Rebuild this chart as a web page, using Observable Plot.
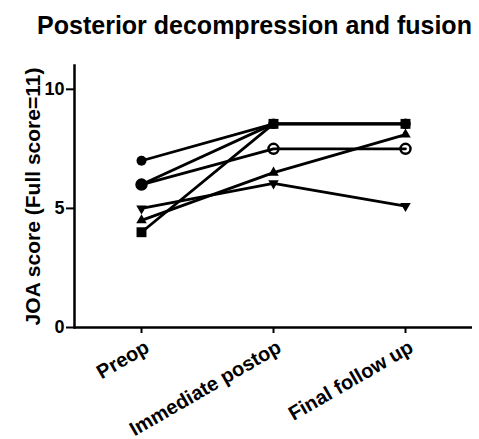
<!DOCTYPE html>
<html>
<head>
<meta charset="utf-8">
<script src="https://cdn.jsdelivr.net/npm/d3@7"></script>
<script src="https://cdn.jsdelivr.net/npm/@observablehq/plot@0.6"></script>
<style>
  html, body { margin: 0; padding: 0; background: #fff; }
  svg { font-family: "Liberation Sans", Arial, sans-serif; }
</style>
</head>
<body>
<div id="chart"></div>
<script>
const title = "Posterior decompression and fusion";
const yLabel = "JOA score (Full score=11)";
const times = ["Preop", "Immediate postop", "Final follow up"];
const yTicks = [0, 5, 10];

// one array per patient line (JOA score at each time point)
const seriesA = [7.0, 8.55, 8.55];   // small filled circle
const seriesB = [6.0, 8.55, 8.55];   // filled circle
const seriesC = [6.0, 7.5, 7.5];     // open circle
const seriesD = [4.0, 8.55, 8.55];   // filled square
const seriesE = [4.5, 6.5, 8.1];     // triangle up
const seriesF = [5.0, 6.05, 5.1];    // triangle down

const seriesList = [
  {id: "A", values: seriesA, symbol: "circle", r: 5, fill: "black", stroke: "none", rotate: 0},
  {id: "B", values: seriesB, symbol: "circle", r: 5, fill: "black", stroke: "none", rotate: 0},
  {id: "C", values: seriesC, symbol: "circle", r: 5, fill: "none", stroke: "black", rotate: 0},
  {id: "F", values: seriesF, symbol: "triangle", r: 3.9, fill: "black", stroke: "none", rotate: 180},
  {id: "E", values: seriesE, symbol: "triangle", r: 3.9, fill: "black", stroke: "none", rotate: 0},
  {id: "D", values: seriesD, symbol: "square", r: 5.6, fill: "black", stroke: "none", rotate: 0}
];

const rows = seriesList.flatMap(s => s.values.map((v, i) => ({series: s.id, time: times[i], value: v})));

const dotMarks = seriesList.map(s => Plot.dot(rows.filter(d => d.series === s.id), {
  x: "time", y: "value", symbol: () => s.symbol, r: s.r,
  fill: s.fill, stroke: s.stroke, strokeWidth: 2.5, rotate: s.rotate
}));

const chart = Plot.plot({
  width: 479,
  height: 439,
  marginLeft: 74,
  marginRight: 7,
  marginTop: 65,
  marginBottom: 112,
  style: {fontFamily: "'Liberation Sans', Arial, sans-serif", background: "white", color: "black"},
  x: {type: "point", domain: times, padding: 0.5},
  y: {domain: [0, 11]},
  symbol: {type: "identity"},
  marks: [
    Plot.text([title], {frameAnchor: "top", dx: -19, dy: -49, fontSize: 25, fontWeight: "bold", fill: "black"}),
    Plot.text([yLabel], {frameAnchor: "left", dx: -41, rotate: -90, lineAnchor: "middle", textAnchor: "middle",
      fontSize: 21, fontWeight: "bold", fill: "black"}),
    Plot.axisY({ticks: yTicks, tickSize: 8, tickPadding: 2, fontSize: 18, fontWeight: "bold", strokeWidth: 2, label: null}),
    Plot.axisX({tickSize: 6, strokeWidth: 2, label: null, tickFormat: () => ""}),
    Plot.axisX({tickSize: 0, tickRotate: -30, fontSize: 20, fontWeight: "bold", label: null, tickPadding: 18, dx: 6}),
    Plot.frame({anchor: "left", strokeWidth: 2.5}),
    Plot.ruleY([0], {strokeWidth: 2.5}),
    Plot.line(rows, {x: "time", y: "value", z: "series", stroke: "black", strokeWidth: 2.8}),
    ...dotMarks
  ]
});
document.getElementById("chart").appendChild(chart);
</script>
</body>
</html>
